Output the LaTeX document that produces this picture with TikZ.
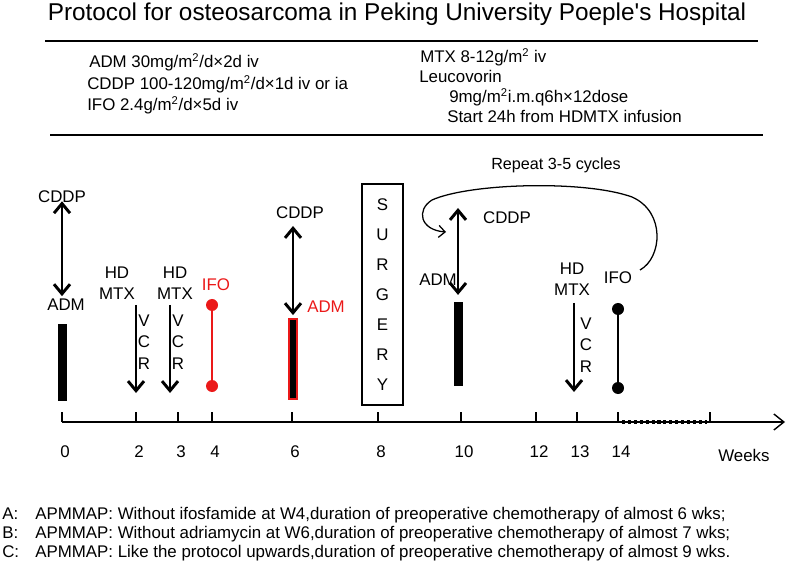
\documentclass[tikz,border=0pt]{standalone}
\usepackage{fontspec}
\setmainfont{Liberation Sans}
\usetikzlibrary{arrows.meta,positioning}
\definecolor{ifored}{RGB}{235,25,25}

\begin{document}
\begin{tikzpicture}[x=0.025cm, y=-0.025cm,
    lbl/.style={inner sep=0pt, font=\fontsize{12}{14}\selectfont},
    hdr/.style={anchor=base west, inner sep=0pt, font=\fontsize{12}{14}\selectfont},
    note/.style={anchor=base west, inner sep=0pt, font=\fontsize{12}{14}\selectfont},
    wk/.style={inner sep=0pt, font=\fontsize{12}{14}\selectfont},
    dbl/.style={{Straight Barb[length=2.4mm, width=4mm]}-{Straight Barb[length=2.4mm, width=4mm]}, line width=2.1pt},
    down/.style={-{Straight Barb[length=2.4mm, width=4mm]}, line width=2.1pt},
    bar/.style={fill=black, draw=black, inner sep=0pt, minimum width=0.2cm},
    dumb/.style={line width=2pt},
    dot/.style={circle, fill, inner sep=0pt, minimum size=0.3cm}
]
\useasboundingbox (0,0) rectangle (788,576);

\node[anchor=base, inner sep=0pt, font=\fontsize{17.3}{20}\selectfont] (title) at (397,21) {Protocol for osteosarcoma in Peking University Poeple\textquotesingle s Hospital};
\draw[line width=1.4pt] (45,41) -- (758,41);
\draw[line width=1.4pt] (50,135) -- (763,135);

\node[hdr] (dosea) at (89,68) {ADM 30mg/m\textsuperscript{2}/d×2d iv};
\node[hdr] (doseb) at (87,90) {CDDP 100-120mg/m\textsuperscript{2}/d×1d iv or ia};
\node[hdr] (dosec) at (87,111) {IFO 2.4g/m\textsuperscript{2}/d×5d iv};
\node[hdr] (dosed) at (420,63) {MTX 8-12g/m\textsuperscript{2} iv};
\node[hdr] (dosee) at (419,83) {Leucovorin};
\node[hdr] (dosef) at (449,103) {9mg/m\textsuperscript{2}i.m.q6h×12dose};
\node[hdr] (doseg) at (447,123) {Start 24h from HDMTX infusion};

% time axis
\draw[line width=1pt, -{Straight Barb[length=2.5mm, width=4mm]}] (62,422) -- (785,422);
\foreach \x/\w in {62/0, 136/2, 178/3, 212/4, 292/6, 378/8, 461/10, 536/12, 577/13, 618/14} {
  \draw[line width=1pt] (\x,412) -- (\x,422);
  \node[wk] (w\w) at (\x+3,452) {\w};
}
\draw[line width=1pt] (710,412) -- (710,422);
\draw[line width=2.2pt, dotted] (622,422) -- (707,422);
\node[wk, anchor=west] (weeks) at (718,455) {Weeks};

% week 0
\node[lbl] (cddpa) at (62,197) {CDDP};
\node[lbl] (adma) at (66,305) {ADM};
\draw[dbl] (cddpa.south) ++(0,-2) -- ([yshift=0.07cm]adma.north -| cddpa.south);
\node[bar, minimum height=1.9cm] (bara) at (62,362) {};

% week 2 and 3
\node[lbl, align=center, font=\fontsize{12}{15}\selectfont] (mtxa) at (117,283) {HD\\MTX};
\coordinate (enda) at (136,393);
\draw[down] (136,305) -- (enda);
\node[lbl, align=center, font=\fontsize{12}{15.2}\selectfont] (vcra) at (144,342) {V\\C\\R};
\node[lbl, align=center, font=\fontsize{12}{15}\selectfont] (mtxb) at (175,283) {HD\\MTX};
\coordinate (endb) at (170,393);
\draw[down] (170,305) -- (endb);
\node[lbl, align=center, font=\fontsize{12}{15.2}\selectfont] (vcrb) at (178,342) {V\\C\\R};

% week 4
\node[lbl, text=ifored] (ifoa) at (216,285) {IFO};
\node[dot, ifored] (ifoatop) at (212,305) {};
\node[dot, ifored] (ifoabot) at (212,386) {};
\draw[dumb, ifored] (ifoatop) -- (ifoabot);

% week 6
\node[lbl] (cddpb) at (300,213) {CDDP};
\node[lbl, text=ifored] (admb) at (326,307) {ADM};
\node[bar, draw=ifored, line width=1pt, minimum height=2cm] (barb) at (293,359) {};
\draw[dbl] (293,226) -- ([yshift=0.08cm]barb.north);

% surgery
\node[draw, line width=1pt, minimum width=1.025cm, minimum height=5.525cm, inner sep=0pt] (surg) at (382.5,294.5) {};
\node[lbl, align=center, font=\fontsize{12}{21.3}\selectfont] (surgtxt) at (surg.center) {S\\U\\R\\G\\E\\R\\Y};

% week 10
\node[lbl] (cddpc) at (507,218) {CDDP};
\node[lbl] (admc) at (438,280) {ADM};
\node[bar, minimum height=2.075cm] (barc) at (458,343.5) {};
\draw[dbl] (458,208) -- ([yshift=0.17cm]barc.north);

% week 13 and 14
\node[lbl, align=center, font=\fontsize{12}{15}\selectfont] (mtxc) at (572,279) {HD\\MTX};
\coordinate (endc) at (574,392);
\draw[down] (574,303) -- (endc);
\node[lbl, align=center, font=\fontsize{12}{15.2}\selectfont] (vcrc) at (586,345) {V\\C\\R};
\node[lbl] (ifob) at (618,278) {IFO};
\node[dot, black] (ifobtop) at (618,309) {};
\node[dot, black] (ifobbot) at (618,388) {};
\draw[dumb] (ifobtop) -- (ifobbot);

% repeat loop
\node[lbl, font=\fontsize{11.5}{13}\selectfont] (rep) at (556,165) {Repeat 3-5 cycles};
\coordinate (loopa) at (640,270);
\coordinate (loopb) at (446,232);
\draw[line width=0.9pt, -{Straight Barb[length=1.6mm, width=3mm]}] (loopa) .. controls (662,258) and (666,212) .. (632,197)
  .. controls (585,180) and (470,183) .. (432,200) .. controls (416,210) and (420,230) .. (loopb);

% notes
\node[note] (nla) at (2,519) {A:};
\node[note] (nta) at (35,519) {APMMAP: Without ifosfamide at W4,duration of preoperative chemotherapy of almost 6 wks;};
\node[note] (nlb) at (2,538) {B:};
\node[note] (ntb) at (35,538) {APMMAP: Without adriamycin at W6,duration of preoperative chemotherapy of almost 7 wks;};
\node[note] (nlc) at (2,557) {C:};
\node[note] (ntc) at (35,557) {APMMAP: Like the protocol upwards,duration of preoperative chemotherapy of almost 9 wks.};
\end{tikzpicture}
\end{document}
